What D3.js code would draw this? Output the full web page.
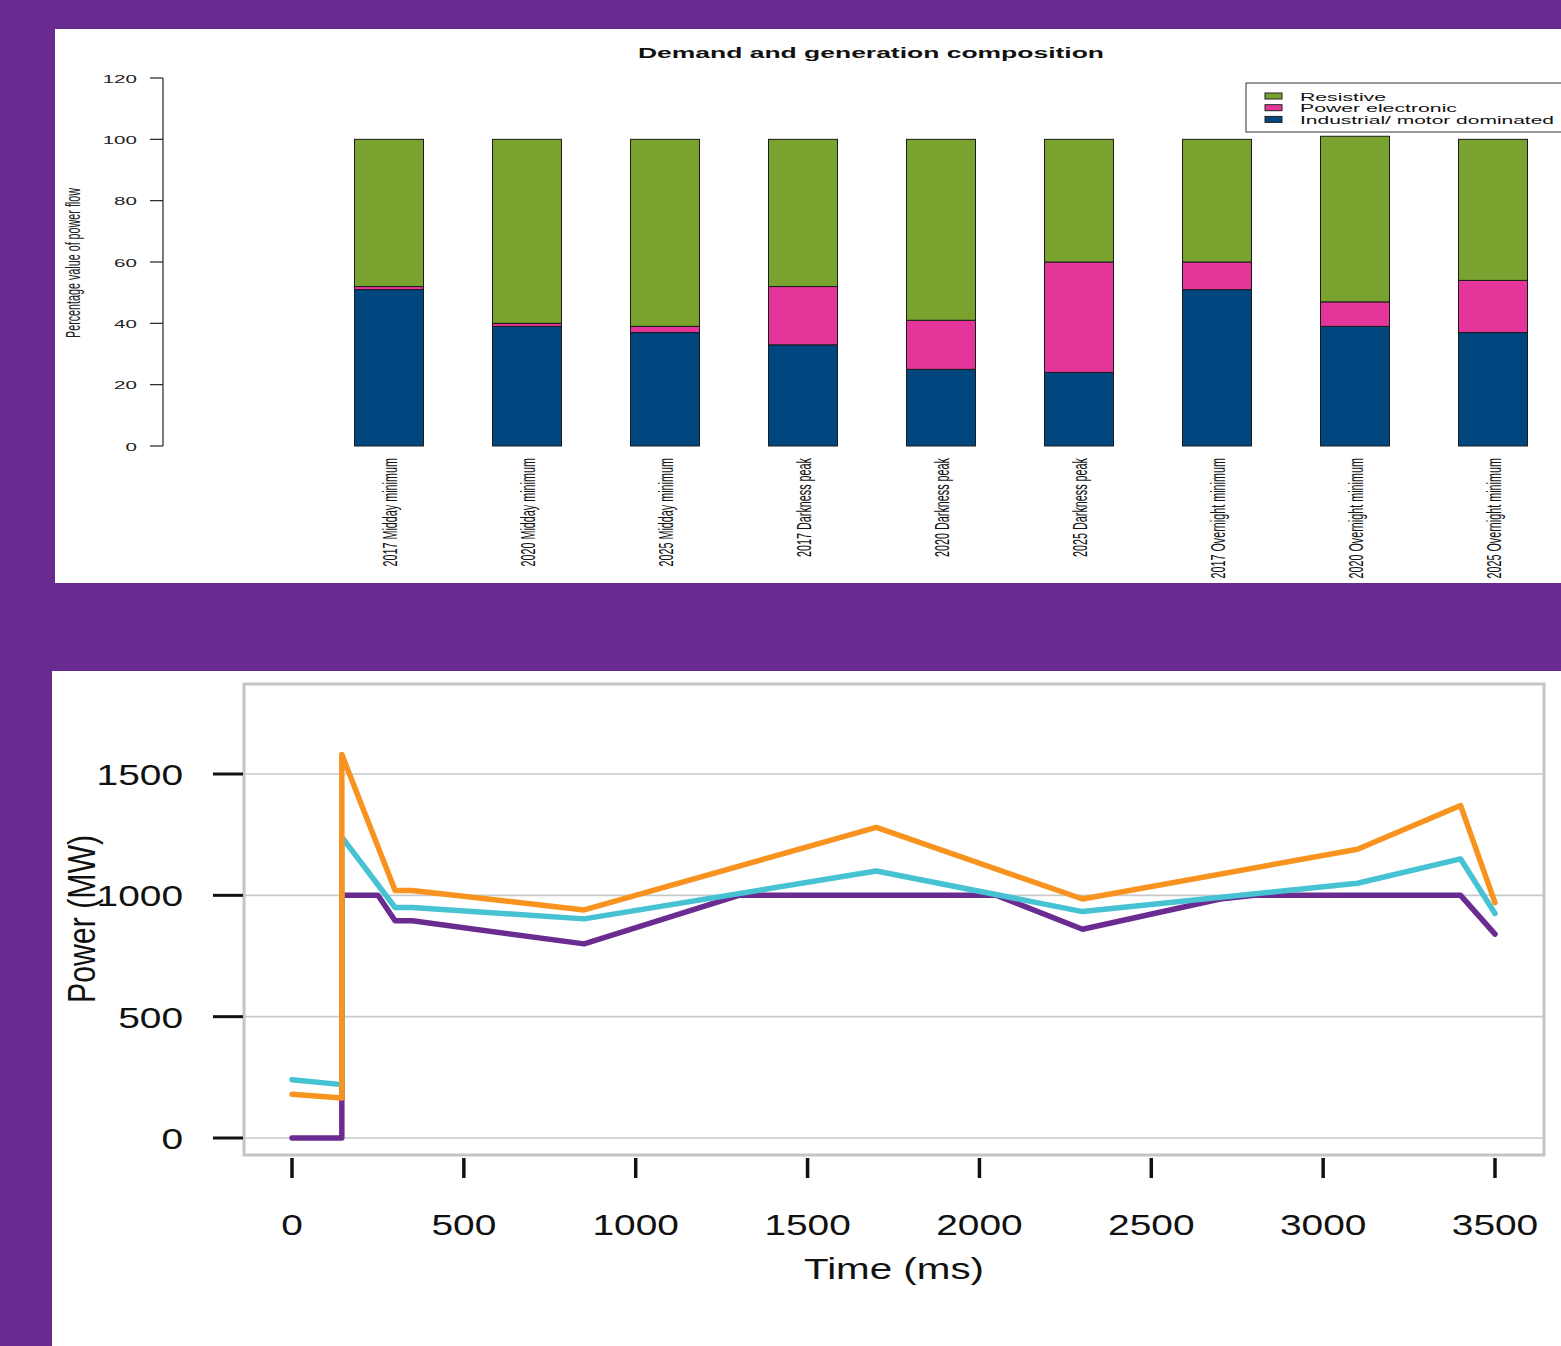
<!DOCTYPE html>
<html>
<head>
<meta charset="utf-8">
<script src="https://cdn.jsdelivr.net/npm/d3@7"></script>
<style>
  html, body { margin: 0; padding: 0; background: #692b8f; }
  svg { display: block; }
</style>
</head>
<body>
<svg id="chart" width="1561" height="1346"></svg>
<script>
// ---------- DATA ----------
const categories = [
  "2017 Midday minimum", "2020 Midday minimum", "2025 Midday minimum",
  "2017 Darkness peak", "2020 Darkness peak", "2025 Darkness peak",
  "2017 Overnight minimum", "2020 Overnight minimum", "2025 Overnight minimum"
];
const motorDominated  = [51, 39, 37, 33, 25, 24, 51, 39, 37];
const powerElectronic = [1, 1, 2, 19, 16, 36, 9, 8, 17];
const resistive       = [48, 60, 61, 48, 59, 40, 40, 54, 46];
const legendLabels = ["Resistive", "Power electronic", "Industrial/ motor dominated"];
const barTicks = [0, 20, 40, 60, 80, 100, 120];

const purpleSeries = [[0,0],[145,0],[145,1000],[250,1000],[300,895],[350,895],[850,800],[1300,1000],[2050,1000],[2300,860],[2700,985],[2800,1000],[3400,1000],[3500,840]];
const cyanSeries   = [[0,240],[145,220],[145,1240],[300,950],[350,950],[850,903],[1700,1100],[2300,933],[3100,1050],[3400,1150],[3500,925]];
const orangeSeries = [[0,180],[145,165],[145,1580],[300,1020],[350,1020],[850,940],[1700,1280],[2300,985],[3100,1190],[3400,1370],[3500,970]];
const powerTicks = [0, 500, 1000, 1500];
const timeTicks = [0, 500, 1000, 1500, 2000, 2500, 3000, 3500];

// ---------- SETUP ----------
const FONT = "'Liberation Sans', Arial, sans-serif";
const svg = d3.select("#chart");
svg.append("rect").attr("x", 0).attr("y", 0).attr("width", 1561).attr("height", 1346).attr("fill", "#692b8f");

// ===== TOP PANEL =====
svg.append("rect").attr("x", 55).attr("y", 29).attr("width", 1506).attr("height", 554).attr("fill", "#ffffff");
const topG = svg.append("g");
const SX1 = 1.87;

const yBar = d3.scaleLinear().domain([0, 120]).range([446, 78]);
const xBar = d3.scaleBand().domain(categories).range([320, 1562]).paddingInner(0.5).paddingOuter(0.25);

const colors = { resistive: "#79a22f", power: "#e4369a", motor: "#00467f" };

// stacked bars
const stackData = categories.map((c, i) => ({
  cat: c, motor: motorDominated[i], power: powerElectronic[i], resistive: resistive[i]
}));
const stack = d3.stack().keys(["motor", "power", "resistive"])(stackData);
const barG = topG.append("g");
stack.forEach(layer => {
  barG.selectAll(null).data(layer).enter().append("rect")
    .attr("x", d => xBar(d.data.cat))
    .attr("width", xBar.bandwidth())
    .attr("y", d => yBar(d[1]))
    .attr("height", d => yBar(d[0]) - yBar(d[1]))
    .attr("fill", colors[layer.key])
    .attr("stroke", "#1a1a1a")
    .attr("stroke-width", 1);
});

// y axis
const yAxisG = topG.append("g").attr("transform", "translate(163,0)");
yAxisG.append("line").attr("x1", 0).attr("x2", 0).attr("y1", yBar(120)).attr("y2", yBar(0)).attr("stroke", "#222").attr("stroke-width", 1.2);
barTicks.forEach(t => {
  yAxisG.append("line").attr("x1", -13).attr("x2", 0).attr("y1", yBar(t)).attr("y2", yBar(t)).attr("stroke", "#222").attr("stroke-width", 1.2);
  topG.append("text")
    .attr("transform", `translate(137,${yBar(t) + 4.5}) scale(${SX1},1)`)
    .attr("text-anchor", "end")
    .attr("font-family", FONT).attr("font-size", 11).attr("fill", "#222")
    .text(t);
});

// y axis title
topG.append("text")
  .attr("transform", `translate(73,263) scale(${SX1},1) rotate(-90)`)
  .attr("text-anchor", "middle").attr("dy", "0.35em")
  .attr("font-family", FONT).attr("font-size", 11).attr("fill", "#222")
  .attr("textLength", 150).attr("lengthAdjust", "spacingAndGlyphs")
  .text("Percentage value of power flow");

// category labels
categories.forEach(c => {
  topG.append("text")
    .attr("transform", `translate(${xBar(c) + xBar.bandwidth() / 2 + 1},458) scale(${SX1},1) rotate(-90)`)
    .attr("text-anchor", "end").attr("dy", "0.35em")
    .attr("font-family", FONT).attr("font-size", 10.8).attr("fill", "#111")
    .text(c);
});

// title
topG.append("text")
  .attr("x", 871).attr("y", 58)
  .attr("text-anchor", "middle")
  .attr("font-family", FONT).attr("font-size", 14).attr("font-weight", "bold").attr("fill", "#111")
  .attr("textLength", 466).attr("lengthAdjust", "spacingAndGlyphs")
  .text("Demand and generation composition");

// legend
const leg = topG.append("g");
leg.append("rect").attr("x", 1246).attr("y", 83).attr("width", 330).attr("height", 49)
  .attr("fill", "#fff").attr("stroke", "#333").attr("stroke-width", 1);
const legColors = [colors.resistive, colors.power, colors.motor];
const legLens = [86, 157, 254];
legendLabels.forEach((l, i) => {
  const cy = 96 + i * 11.7;
  leg.append("rect").attr("x", 1265).attr("y", cy - 3).attr("width", 17).attr("height", 6)
    .attr("fill", legColors[i]).attr("stroke", "#222").attr("stroke-width", 1);
  leg.append("text").attr("x", 1300).attr("y", cy + 4.5)
    .attr("font-family", FONT).attr("font-size", 11.3).attr("fill", "#111")
    .attr("textLength", legLens[i]).attr("lengthAdjust", "spacingAndGlyphs")
    .text(l);
});

// ===== BOTTOM PANEL =====
svg.append("rect").attr("x", 52).attr("y", 671).attr("width", 1509).attr("height", 675).attr("fill", "#ffffff");
const botG = svg.append("g");
const SX2 = 1.34;

const xT = d3.scaleLinear().domain([0, 3500]).range([292, 1495]);
const yP = d3.scaleLinear().domain([0, 1500]).range([1138, 774]);

// grid lines
powerTicks.forEach(t => {
  botG.append("line").attr("x1", 244).attr("x2", 1544).attr("y1", yP(t)).attr("y2", yP(t))
    .attr("stroke", "#c9c9c9").attr("stroke-width", 1.6);
});
// frame
botG.append("rect").attr("x", 244).attr("y", 684).attr("width", 1300).attr("height", 471)
  .attr("fill", "none").attr("stroke", "#c4c4c4").attr("stroke-width", 3);

// y ticks + labels
powerTicks.forEach(t => {
  botG.append("line").attr("x1", 213).attr("x2", 243).attr("y1", yP(t)).attr("y2", yP(t))
    .attr("stroke", "#111").attr("stroke-width", 3);
  botG.append("text")
    .attr("transform", `translate(183,${yP(t) + 11}) scale(${SX2},1)`)
    .attr("text-anchor", "end")
    .attr("font-family", FONT).attr("font-size", 29).attr("fill", "#111")
    .text(t);
});
// x ticks + labels
timeTicks.forEach(t => {
  botG.append("line").attr("x1", xT(t)).attr("x2", xT(t)).attr("y1", 1158).attr("y2", 1178)
    .attr("stroke", "#111").attr("stroke-width", 3.5);
  botG.append("text")
    .attr("transform", `translate(${xT(t)},1235) scale(${SX2},1)`)
    .attr("text-anchor", "middle")
    .attr("font-family", FONT).attr("font-size", 29).attr("fill", "#111")
    .text(t);
});
// axis titles
botG.append("text")
  .attr("x", 894).attr("y", 1279).attr("text-anchor", "middle")
  .attr("font-family", FONT).attr("font-size", 29).attr("fill", "#111")
  .attr("textLength", 180).attr("lengthAdjust", "spacingAndGlyphs")
  .text("Time (ms)");
botG.append("text")
  .attr("transform", `translate(81,919) scale(${SX2},1) rotate(-90)`)
  .attr("text-anchor", "middle").attr("dy", "0.35em")
  .attr("font-family", FONT).attr("font-size", 29).attr("fill", "#111")
  .attr("textLength", 168).attr("lengthAdjust", "spacingAndGlyphs")
  .text("Power (MW)");

// lines
const line = d3.line().x(d => xT(d[0])).y(d => yP(d[1]));
[[purpleSeries, "#6b2c91"], [cyanSeries, "#46c2d3"], [orangeSeries, "#f7931e"]].forEach(([s, c]) => {
  botG.append("path").datum(s).attr("d", line)
    .attr("fill", "none").attr("stroke", c).attr("stroke-width", 5.5)
    .attr("stroke-linejoin", "round").attr("stroke-linecap", "round");
});
</script>
</body>
</html>
